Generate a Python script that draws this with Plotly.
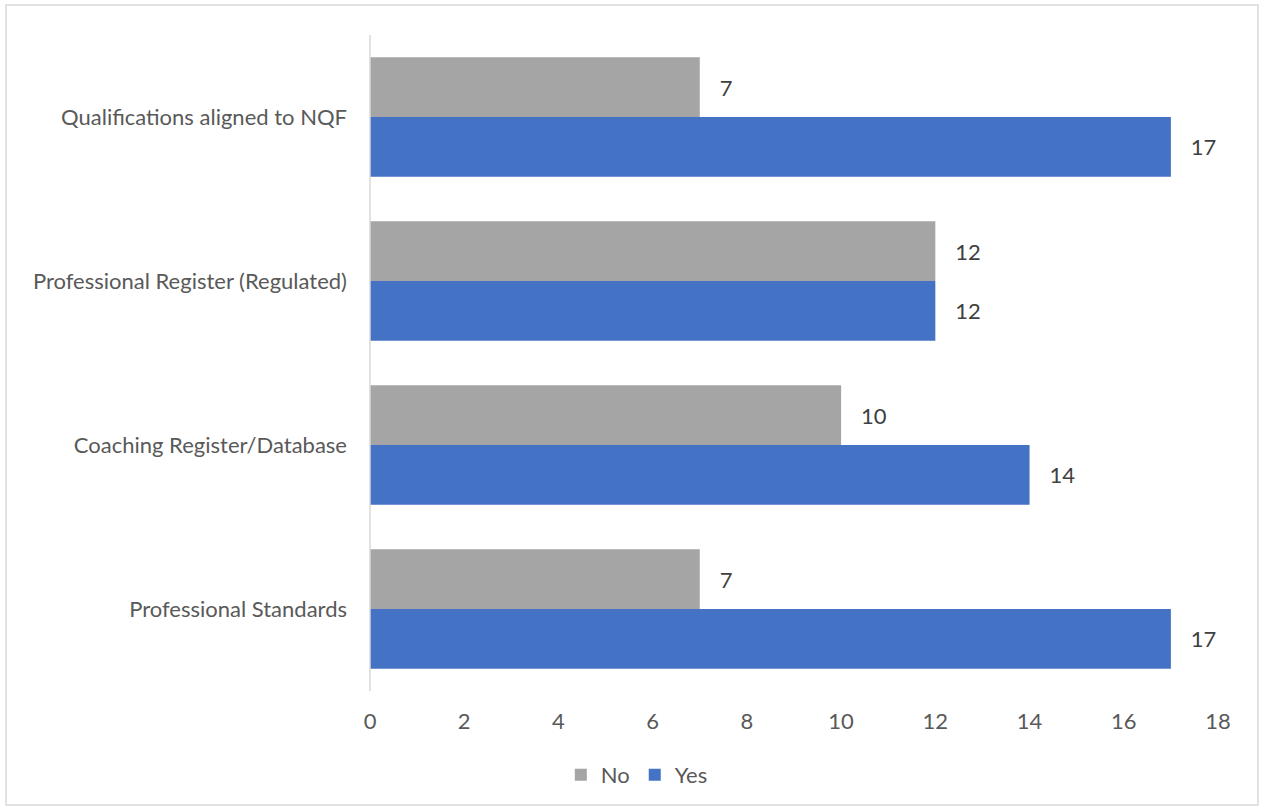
import plotly.graph_objects as go

categories = ["Professional Standards", "Coaching Register/Database",
              "Professional Register (Regulated)", "Qualifications aligned to NQF"]
yes_values = [17, 14, 12, 17]
no_values = [7, 10, 12, 7]
tick_values = [0, 2, 4, 6, 8, 10, 12, 14, 16, 18]

FONT = "Lato"
TXT = "#595959"
FS = 22

fig = go.Figure()
fig.add_trace(go.Bar(
    y=categories, x=yes_values, name="Yes", orientation="h",
    marker=dict(color="#4472C4", line=dict(width=0)),
    text=yes_values, texttemplate="   %{x}", textposition="outside",
    textfont=dict(family=FONT, size=FS, color="#404040"),
    cliponaxis=False, legendrank=2,
))
fig.add_trace(go.Bar(
    y=categories, x=no_values, name="No", orientation="h",
    marker=dict(color="#A5A5A5", line=dict(width=0)),
    text=no_values, texttemplate="   %{x}", textposition="outside",
    textfont=dict(family=FONT, size=FS, color="#404040"),
    cliponaxis=False, legendrank=1,
))

W, H = 1261, 810
ml, mr, mt, mb = 370, 43, 35, 119
pw, ph = W - ml - mr, H - mt - mb

def px_to_paper_x(px):
    return (px - ml) / pw

def px_to_paper_y(py):
    return (H - mb - py) / ph

fig.update_layout(
    width=W, height=H,
    margin=dict(l=ml, r=mr, t=mt, b=mb),
    paper_bgcolor="white", plot_bgcolor="white",
    barmode="group", bargap=0.27, bargroupgap=0,
    font=dict(family=FONT, size=FS, color=TXT),
    showlegend=True,
    legend=dict(orientation="h", xref="container", x=0.505, xanchor="center",
                yref="container", y=(H - 775) / H, yanchor="middle",
                font=dict(family=FONT, size=FS, color=TXT), itemwidth=30,
                traceorder="normal", tracegroupgap=0),
    xaxis=dict(range=[0, 18], tickvals=tick_values, showgrid=False, zeroline=False,
               showline=False, ticks="", tickfont=dict(family=FONT, size=FS, color=TXT),
               ticklabelstandoff=15, fixedrange=True),
    yaxis=dict(showgrid=False, zeroline=False, showline=False, ticks="",
               tickfont=dict(family=FONT, size=FS, color=TXT), ticklabelstandoff=22,
               categoryorder="array", categoryarray=categories, fixedrange=True),
    shapes=[
        dict(type="line", xref="paper", yref="paper", x0=0, x1=0, y0=0, y1=1,
             line=dict(color="#D9D9D9", width=1.5)),
        dict(type="rect", xref="paper", yref="paper",
             x0=px_to_paper_x(6), x1=px_to_paper_x(1258),
             y0=px_to_paper_y(805), y1=px_to_paper_y(5),
             line=dict(color="#D9D9D9", width=1.5), fillcolor="rgba(0,0,0,0)"),
    ],
)

fig.write_html("out.html")
